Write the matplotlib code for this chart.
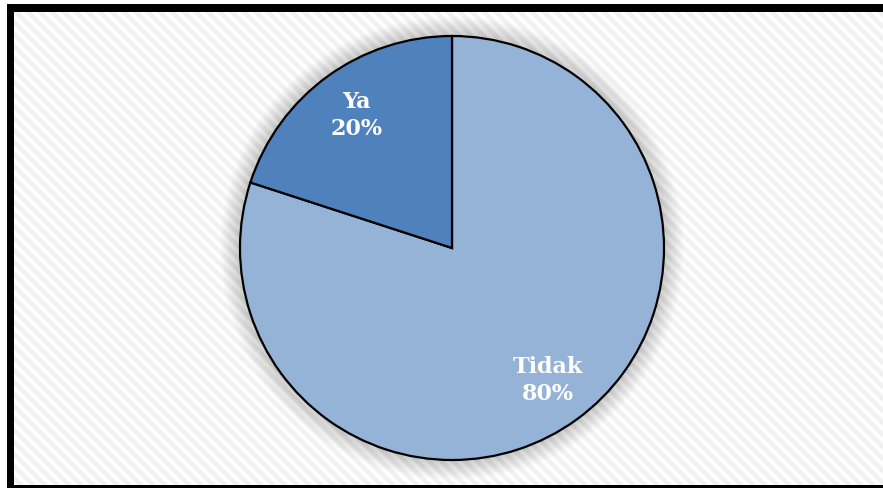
import numpy as np
import matplotlib.pyplot as plt
from matplotlib.patches import Rectangle, Circle

# ---- data ----
labels = ["Tidak", "Ya"]
values = [80, 20]
colors = ["#95B3D7", "#4F81BD"]

W, H = 883, 488
fig = plt.figure(figsize=(W / 100, H / 100), dpi=100)
ax = fig.add_axes([0, 0, 1, 1])
ax.set_xlim(0, W)
ax.set_ylim(0, H)
ax.set_aspect("equal")
ax.axis("off")

# ---- background: faint diagonal stripes inside a thick black frame ----
ax.add_patch(Rectangle((0, 0), W, H, facecolor="white", edgecolor="none", zorder=0))
bg = Rectangle((14, 3), W - 14, H - 15, facecolor="none", edgecolor="none", zorder=0.5)
ax.add_patch(bg)
for x0 in np.arange(-H, W + H, 12):
    ln, = ax.plot([x0, x0 + H], [H, 0], color="#F1F1F1", linewidth=3.2,
                  solid_capstyle="butt", zorder=0.6)
    ln.set_clip_path(bg)
ax.add_patch(Rectangle((7, 476), W - 7, 8, facecolor="black", edgecolor="none", zorder=1))
ax.add_patch(Rectangle((7, 0), 7, 484, facecolor="black", edgecolor="none", zorder=1))
ax.add_patch(Rectangle((7, 0), W - 7, 3, facecolor="black", edgecolor="none", zorder=1))

# ---- pie ----
cx, cy, r = 452, 240, 212

# soft shadow around the pie
for k in range(12):
    ax.add_patch(Circle((cx, cy), r + 2 + k * 1.6, facecolor="black",
                        edgecolor="none", alpha=0.016, zorder=1.5))

def fmt(pct):
    i = int(round(pct / 100 * sum(values)))
    return "{}\n{:.0f}%".format(labels[values.index(i)], pct)

wedges, texts, autotexts = ax.pie(
    values, colors=colors, startangle=90, counterclock=False,
    center=(cx, cy), radius=r, autopct=fmt, pctdistance=0.77,
    wedgeprops=dict(edgecolor="black", linewidth=1.6),
    textprops=dict(color="white", fontsize=16, fontweight="bold",
                   family="DejaVu Serif", linespacing=1.3),
    frame=True,
)
for w in wedges:
    w.set_zorder(2)
for t in autotexts:
    t.set_zorder(3)
ax.set_xlim(0, W)
ax.set_ylim(0, H)
ax.axis("off")

fig.savefig("out.png", dpi=100)
